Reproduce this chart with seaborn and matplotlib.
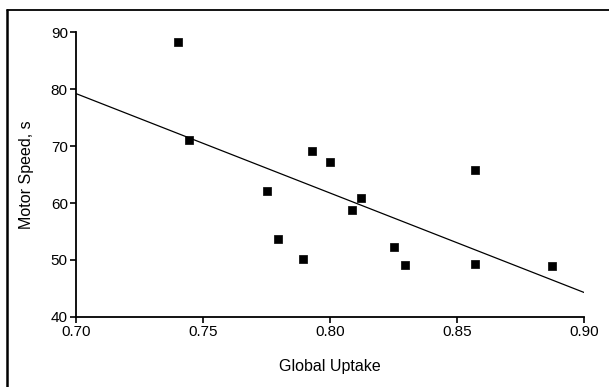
import numpy as np
import pandas as pd
import matplotlib
matplotlib.use("Agg")
from matplotlib import pyplot as plt
from matplotlib.lines import Line2D
import seaborn as sns

# points
uptake = [0.740, 0.7445, 0.775, 0.7795, 0.7895, 0.793, 0.800, 0.8085, 0.812,
          0.825, 0.8295, 0.857, 0.857, 0.8875]
speed = [88.3, 71.0, 62.1, 53.7, 50.2, 69.2, 67.2, 58.8, 60.8,
         52.2, 49.1, 65.8, 49.3, 49.0]

# fitted line end points
fit_x = [0.70, 0.90]
fit_y = [79.2, 44.3]

x_ticks = [0.70, 0.75, 0.80, 0.85, 0.90]
x_labels = ["0.70", "0.75", "0.80", "0.85", "0.90"]
y_ticks = [40, 50, 60, 70, 80, 90]

df = pd.DataFrame({"Global Uptake": uptake, "Motor Speed, s": speed})
fit = pd.DataFrame({"x": fit_x, "y": fit_y})

sns.set_style("ticks")
plt.rcParams['font.family'] = ['Liberation Sans', 'DejaVu Sans']
plt.rcParams['axes.labelcolor'] = 'black'

fig = plt.figure(figsize=(6.09, 3.87), dpi=100)
ax = fig.add_axes([0.125, 0.181, 0.834, 0.736])

sns.lineplot(data=fit, x="x", y="y", ax=ax, color="black", linewidth=0.9)
sns.scatterplot(data=df, x="Global Uptake", y="Motor Speed, s", ax=ax,
                marker="s", s=30, color="black", edgecolor="black", linewidth=0.5)

ax.set_xlim(0.70, 0.90)
ax.set_ylim(40, 90)
ax.set_xticks(x_ticks)
ax.set_xticklabels(x_labels)
ax.set_yticks(y_ticks)
ax.tick_params(direction="out", length=4, width=1.2, labelsize=11, colors="black", pad=2)
sns.despine(ax=ax)
for s in ["left", "bottom"]:
    ax.spines[s].set_linewidth(1.3)
    ax.spines[s].set_color("black")
ax.set_xlabel("Global Uptake", fontsize=11.5, labelpad=14, color="black")
ax.set_ylabel("Motor Speed, s", fontsize=11.5, labelpad=12, color="black")

# frame lines at top and left of the figure
fig.add_artist(Line2D([0.012, 1.0], [0.975, 0.975], transform=fig.transFigure,
                      color="black", linewidth=1.3))
fig.add_artist(Line2D([0.012, 0.012], [0.0, 0.975], transform=fig.transFigure,
                      color="black", linewidth=1.8))

fig.savefig("out.png", dpi=100)
